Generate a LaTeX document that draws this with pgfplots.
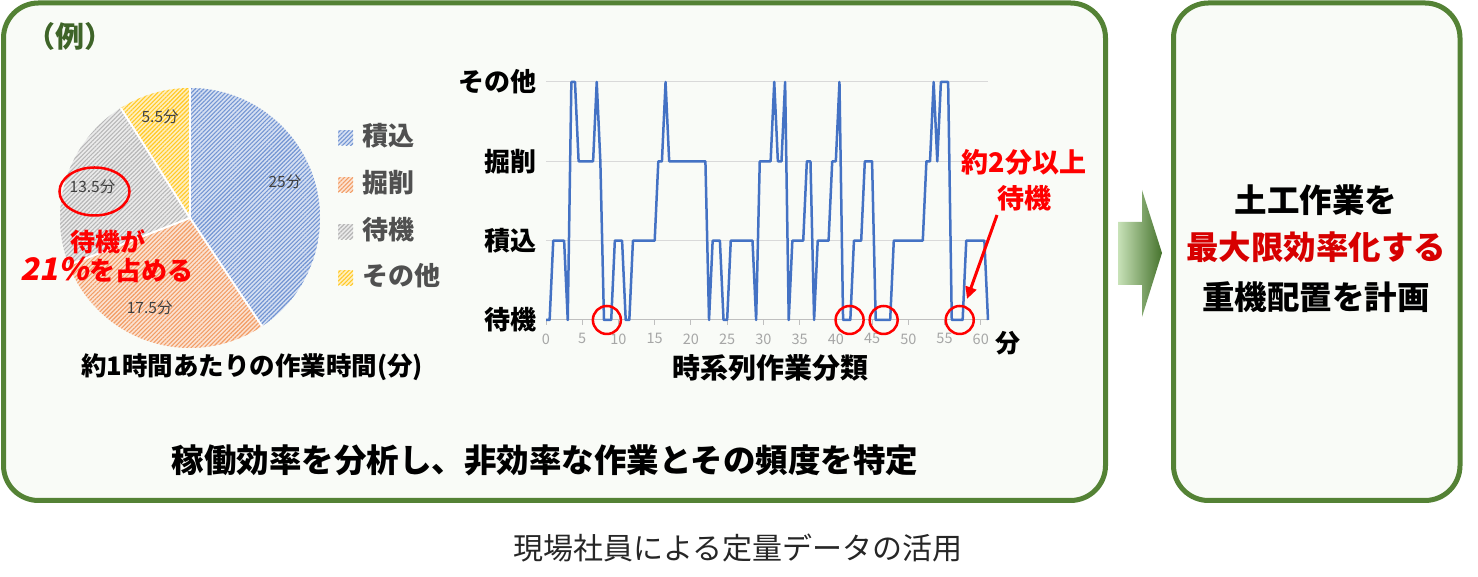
\documentclass[border=0pt]{standalone}
\usepackage{pgfplots}
\pgfplotsset{compat=1.18}
\usepackage{fontspec}
\setmainfont{Noto Sans CJK JP}
\newfontfamily\jpslant{Noto Sans CJK JP}[FakeSlant=0.2]
\usetikzlibrary{patterns.meta,arrows.meta}
\definecolor{boxgreen}{RGB}{84,130,53}
\definecolor{boxfill}{RGB}{249,251,247}
\definecolor{exgreen}{RGB}{62,100,40}
\definecolor{lineblue}{RGB}{68,114,196}
\definecolor{cblue}{RGB}{68,114,196}
\definecolor{corange}{RGB}{237,125,49}
\definecolor{cgray}{RGB}{165,165,165}
\definecolor{cyellow}{RGB}{255,192,0}
\definecolor{gridgray}{RGB}{217,217,217}
\definecolor{axisgray}{RGB}{191,191,191}
\definecolor{tickgray}{RGB}{166,166,166}
\definecolor{legtext}{RGB}{80,80,80}
\definecolor{pielab}{RGB}{64,64,64}
\definecolor{annred}{RGB}{255,0,0}
\definecolor{boxred}{RGB}{215,0,0}
\definecolor{arrlight}{RGB}{200,226,184}
\definecolor{arrdark}{RGB}{70,115,45}
\newcommand\fs[1]{\fontsize{#1}{#1}\selectfont}

% minutes per hour spent on each task
\def\vLoad{25}
\def\vDig{17.5}
\def\vWait{13.5}
\def\vOther{5.5}

\tikzset{
  slice/.style 2 args={preaction={fill=#1}, pattern={Lines[angle=45,distance=3pt,line width=1.1pt]}, pattern color=#2},
}

\begin{document}
\begin{tikzpicture}[x=1pt,y=1pt]
\useasboundingbox (0pt,0pt) rectangle (1478pt,577pt);

% frames
\draw[boxgreen, line width=5pt, fill=boxfill, rounded corners=35pt] (3.5,574) rectangle (1105.5,76.5);
\draw[boxgreen, line width=5pt, fill=boxfill, rounded corners=35pt] (1173.5,574) rectangle (1460,76.5);
\shade[left color=arrlight, right color=arrdark]
  (1118,355) -- (1142,355) -- (1142,387) -- (1162,324) -- (1142,260) -- (1142,292) -- (1118,292) -- cycle;

\node[exgreen, font=\fs{29pt}\bfseries] at (70,541) {（例）};

% pie
\pgfmathsetmacro\tot{\vLoad+\vDig+\vWait+\vOther}
\pgfmathsetmacro\aA{90}
\pgfmathsetmacro\aB{\aA-360*\vLoad/\tot}
\pgfmathsetmacro\aC{\aB-360*\vDig/\tot}
\pgfmathsetmacro\aD{\aC-360*\vWait/\tot}
\pgfmathsetmacro\aE{\aD-360*\vOther/\tot}
\begin{axis}[
  at={(190pt,359pt)}, anchor=center,
  scale only axis, width=260pt, height=260pt,
  xmin=-1, xmax=1, ymin=-1, ymax=1,
  hide axis, clip=false,
]
\fill[slice={cblue!22}{cblue!75}] (axis cs:0,0) -- (axis cs:{cos(\aA)},{sin(\aA)}) arc[start angle=\aA, end angle=\aB, radius=130pt] -- cycle;
\fill[slice={corange!22}{corange!75}] (axis cs:0,0) -- (axis cs:{cos(\aB)},{sin(\aB)}) arc[start angle=\aB, end angle=\aC, radius=130pt] -- cycle;
\fill[slice={cgray!22}{cgray!80}] (axis cs:0,0) -- (axis cs:{cos(\aC)},{sin(\aC)}) arc[start angle=\aC, end angle=\aD, radius=130pt] -- cycle;
\fill[slice={cyellow!25}{cyellow!85}] (axis cs:0,0) -- (axis cs:{cos(\aD)},{sin(\aD)}) arc[start angle=\aD, end angle=\aE, radius=130pt] -- cycle;
\draw[white, line width=2pt] (axis cs:0,0) -- (axis cs:{cos(\aA)},{sin(\aA)});
\draw[white, line width=2pt] (axis cs:0,0) -- (axis cs:{cos(\aB)},{sin(\aB)});
\draw[white, line width=2pt] (axis cs:0,0) -- (axis cs:{cos(\aC)},{sin(\aC)});
\draw[white, line width=2pt] (axis cs:0,0) -- (axis cs:{cos(\aD)},{sin(\aD)});
\node[pielab, font=\fs{15.5pt}] at (axis cs:0.73,0.28) {25分};
\node[pielab, font=\fs{15.5pt}] at (axis cs:-0.31,-0.69) {17.5分};
\node[pielab, font=\fs{15.5pt}] at (axis cs:-0.75,0.24) {13.5分};
\node[pielab, font=\fs{15.5pt}] at (axis cs:-0.23,0.78) {5.5分};
\end{axis}

% pie legend
\fill[slice={cblue!22}{cblue!75}] (338,431.5) rectangle (353,446.5);
\fill[slice={corange!22}{corange!75}] (338,384.5) rectangle (353,399.5);
\fill[slice={cgray!22}{cgray!80}] (338,337.5) rectangle (353,352.5);
\fill[slice={cyellow!25}{cyellow!85}] (338,291.5) rectangle (353,306.5);
\node[legtext, anchor=west, font=\fs{26pt}\bfseries, inner sep=0pt] at (362,441) {積込};
\node[legtext, anchor=west, font=\fs{26pt}\bfseries, inner sep=0pt] at (362,394) {掘削};
\node[legtext, anchor=west, font=\fs{26pt}\bfseries, inner sep=0pt] at (362,347) {待機};
\node[legtext, anchor=west, font=\fs{26pt}\bfseries, inner sep=0pt] at (362,301) {その他};
\node[font=\fs{25.5pt}\bfseries] at (252,210) {約1時間あたりの作業時間(分)};
\draw[annred, line width=2.5pt] (94.5,385.5) ellipse[x radius=35, y radius=24];
\node[annred, font=\fs{25pt}\bfseries] at (108,335) {待機が};
\node[annred, font=\fs{26pt}\bfseries] at (107,307) {{\jpslant\fs{31pt}21\%}を占める};

% time series
\begin{axis}[
  at={(767pt,376pt)}, anchor=center,
  scale only axis, width=442pt, height=238pt,
  xmin=0, xmax=61, ymin=0, ymax=3,
  clip=false,
  axis x line*=bottom, axis y line*=left,
  x axis line style={draw=axisgray, line width=1pt, -},
  y axis line style={draw=none},
  ymajorgrids, grid style={draw=gridgray, line width=1pt},
  xtick={0,5,...,60},
  ytick={0,1,2,3},
  yticklabels={待機,積込,掘削,その他},
  /pgf/number format/assume math mode=true,
  tick align=outside, major tick length=5pt,
  xtick style={draw=axisgray, line width=1pt},
  ytick style={draw=none},
  xticklabel style={font=\fs{14.5pt}, text=tickgray, yshift=-5pt},
  yticklabel style={font=\fs{26pt}\bfseries, text=black, inner sep=0pt, xshift=-4pt},
]
\addplot[lineblue, line width=2.5pt, line join=round] coordinates {
  (0,0) (0.5,0) (1,1) (2.5,1) (3,0) (3.5,3) (4,3) (4.5,2) (6.5,2) (7,3) (7.5,2)
  (8,0) (9,0) (9.5,1) (10.5,1) (11,0) (11.5,0) (12,1) (15,1) (15.5,2) (16,2)
  (16.5,3) (17,2) (22,2) (22.5,0) (23,1) (24,1) (24.5,0) (25,0) (25.5,1) (28.5,1)
  (29,0) (29.5,2) (31,2) (31.5,3) (32,2) (32.5,2) (33,3) (33.5,0) (34,1) (35.5,1)
  (36,2) (36.5,2) (37,0) (37.5,1) (39,1) (39.5,2) (40,2) (40.5,3) (41,0) (42,0)
  (42.5,1) (43.5,1) (44,2) (45,2) (45.5,0) (47.5,0) (48,1) (52,1) (52.5,2) (53,2)
  (53.5,3) (54,2) (54.5,3) (55.5,3) (56,0) (57.5,0) (58,1) (60.5,1) (61,0)
};
\draw[annred, line width=2.5pt] (axis cs:8.4,0) circle[radius=14pt];
\draw[annred, line width=2.5pt] (axis cs:41.9,0) circle[radius=14pt];
\draw[annred, line width=2.5pt] (axis cs:46.6,0) circle[radius=14pt];
\draw[annred, line width=2.5pt] (axis cs:57.1,0) circle[radius=14pt];
\end{axis}
\node[font=\fs{25pt}\bfseries] at (1008,234) {分};
\node[font=\fs{28pt}\bfseries] at (770,209) {時系列作業分類};
\node[annred, font=\fs{27pt}\bfseries] at (1024,415) {約2分以上};
\node[annred, font=\fs{27pt}\bfseries] at (1024,379) {待機};
\draw[annred, line width=3pt, -{Triangle[length=12pt,width=11pt]}] (997,362) -- (967,278);

\node[font=\fs{32.5pt}\bfseries] at (545,117) {稼働効率を分析し、非効率な作業とその頻度を特定};
\node[font=\fs{32.5pt}\bfseries] at (1316,377) {土工作業を};
\node[boxred, font=\fs{32.5pt}\bfseries] at (1316,330) {最大限効率化する};
\node[font=\fs{32.5pt}\bfseries] at (1316,280) {重機配置を計画};
\node[black!85, font=\fs{30pt}] at (738,29) {現場社員による定量データの活用};
\end{tikzpicture}
\end{document}
